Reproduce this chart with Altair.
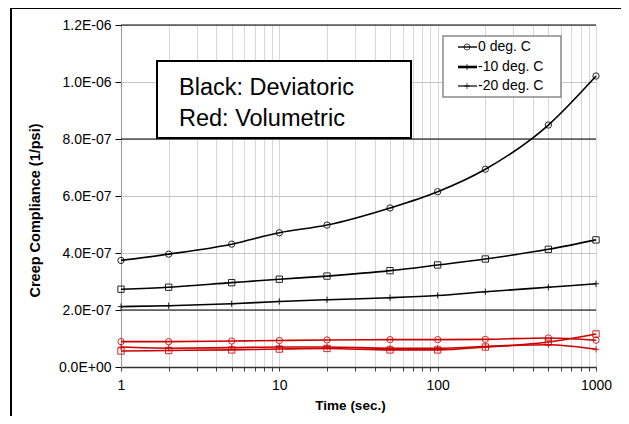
import altair as alt
import pandas as pd

# ---------------- data ----------------
times = [1, 2, 5, 10, 20, 50, 100, 200, 500, 1000]
series_names = ["0 deg. C", "-10 deg. C", "-20 deg. C"]
kinds = ["Deviatoric", "Volumetric"]

dev_0 = [3.74e-7, 3.96e-7, 4.31e-7, 4.71e-7, 4.98e-7, 5.58e-7, 6.15e-7, 6.94e-7, 8.49e-7, 1.021e-6]
dev_10 = [2.73e-7, 2.80e-7, 2.96e-7, 3.08e-7, 3.19e-7, 3.38e-7, 3.58e-7, 3.79e-7, 4.13e-7, 4.46e-7]
dev_20 = [2.12e-7, 2.15e-7, 2.22e-7, 2.30e-7, 2.36e-7, 2.43e-7, 2.51e-7, 2.64e-7, 2.80e-7, 2.92e-7]

vol_0 = [0.89e-7, 0.89e-7, 0.91e-7, 0.93e-7, 0.95e-7, 0.96e-7, 0.96e-7, 0.97e-7, 1.02e-7, 0.94e-7]
vol_10 = [0.56e-7, 0.58e-7, 0.60e-7, 0.63e-7, 0.65e-7, 0.60e-7, 0.60e-7, 0.70e-7, 0.88e-7, 1.16e-7]
vol_20 = [0.70e-7, 0.66e-7, 0.68e-7, 0.70e-7, 0.70e-7, 0.66e-7, 0.66e-7, 0.72e-7, 0.78e-7, 0.62e-7]

y_ticks = [0, 2e-7, 4e-7, 6e-7, 8e-7, 1.0e-6, 1.2e-6]
y_tick_labels = ["0.0E+00", "2.0E-07", "4.0E-07", "6.0E-07", "8.0E-07", "1.0E-06", "1.2E-06"]
x_label_values = [1, 10, 100, 1000]
x_grid = [m * d for d in (1, 10, 100) for m in range(1, 10)] + [1000]
dark_lines = [2e-7, 8e-7, 1.2e-6]

box_lines = ["Black: Deviatoric", "Red: Volumetric"]

# ---------------- tables ----------------
rows = []
for kind, group in zip(kinds, [[dev_0, dev_10, dev_20], [vol_0, vol_10, vol_20]]):
    for name, vals in zip(series_names, group):
        for t, v in zip(times, vals):
            rows.append({"time": t, "value": v, "temp": name, "kind": kind,
                         "series": kind + name})
df = pd.DataFrame(rows)

FONT = "Liberation Sans"
PLUS = "M-1,0H1M0,-1V1"

x_scale = alt.Scale(type="log", domain=[1, 1000], nice=False)
y_scale = alt.Scale(domain=[0, 1.2e-6], nice=False, zero=True)

y_label_expr = "[" + ",".join("'%s'" % l for l in y_tick_labels) + "][round(datum.value/2e-7)]"
x_label_expr = "indexof([" + ",".join(str(v) for v in x_label_values) + "], datum.value) >= 0 ? datum.value : ''"

x_axis = alt.Axis(values=x_grid, labelExpr=x_label_expr, grid=True, gridColor="#d6d6d6",
                  domainColor="#333333", domainWidth=1.5, tickColor="#444444", tickSize=4,
                  labelFont=FONT, labelFontSize=14, labelColor="black", labelPadding=7,
                  labelFlush=False, labelOverlap=False,
                  title="Time (sec.)", titleFont=FONT, titleFontSize=13.5, titleFontWeight="bold",
                  titleX=229, titleY=38, titleBaseline="middle", titleAnchor="middle")
y_axis = alt.Axis(values=y_ticks, labelExpr=y_label_expr, grid=True, gridColor="#c4c4c4",
                  domainColor="#999999", tickColor="black", tickSize=6,
                  labelFont=FONT, labelFontSize=14, labelColor="black", labelPadding=4,
                  title="Creep Compliance (1/psi)", titleFont=FONT, titleFontSize=14.5,
                  titleFontWeight="bold", titleX=-86, titleY=185, titleBaseline="middle",
                  titleAngle=270)

color = alt.Color("kind:N", scale=alt.Scale(domain=kinds, range=["black", "#cc0000"]), legend=None)

base = alt.Chart(df)

lines = base.mark_line(interpolate="monotone", strokeWidth=1.6).encode(
    x=alt.X("time:Q", scale=x_scale, axis=x_axis),
    y=alt.Y("value:Q", scale=y_scale, axis=y_axis),
    color=color,
    detail="series:N",
)

points = base.mark_point(filled=False, strokeWidth=1, opacity=0.85).encode(
    x=alt.X("time:Q", scale=x_scale),
    y=alt.Y("value:Q", scale=y_scale),
    color=color,
    shape=alt.Shape("temp:N", scale=alt.Scale(domain=series_names,
                                              range=["circle", "square", PLUS]), legend=None),
    size=alt.value(40),
)

dark = alt.Chart(pd.DataFrame({"y": dark_lines})).mark_rule(color="black", strokeWidth=1.2).encode(
    y=alt.Y("y:Q", scale=y_scale)
)

one = pd.DataFrame({"k": [0]})

# outer frame (left and top)
frame_left = alt.Chart(one).mark_rule(color="black", strokeWidth=2).encode(
    x=alt.value(-110), y=alt.value(-17), y2=alt.value(400))
frame_top = alt.Chart(one).mark_rule(color="black", strokeWidth=2).encode(
    x=alt.value(-111), x2=alt.value(510), y=alt.value(-17))

# annotation box
box = alt.Chart(one).mark_rect(fill="white", stroke="black", strokeWidth=2).encode(
    x=alt.value(36), x2=alt.value(290), y=alt.value(36), y2=alt.value(113))
box_texts = [
    alt.Chart(one).mark_text(align="left", baseline="alphabetic", font=FONT, fontSize=23.5,
                             color="black").encode(
        x=alt.value(58), y=alt.value(70 + 31 * i), text=alt.value(txt))
    for i, txt in enumerate(box_lines)
]

# legend
leg_box = alt.Chart(one).mark_rect(fill="white", stroke="#8a8a8a", strokeWidth=1.5).encode(
    x=alt.value(322), x2=alt.value(440), y=alt.value(11), y2=alt.value(72))
leg_layers = []
leg_y = [22, 42, 61]
leg_shapes = ["circle", PLUS, PLUS]
leg_widths = [1.4, 2.6, 1.2]
for name, yy, shp, w in zip(series_names, leg_y, leg_shapes, leg_widths):
    leg_layers.append(alt.Chart(one).mark_rule(color="black", strokeWidth=w).encode(
        x=alt.value(337), x2=alt.value(356), y=alt.value(yy)))
    leg_layers.append(alt.Chart(one).mark_point(shape=shp, filled=False, color="black",
                                                strokeWidth=1, size=36).encode(
        x=alt.value(346), y=alt.value(yy)))
    leg_layers.append(alt.Chart(one).mark_text(align="left", baseline="middle", font=FONT,
                                               fontSize=14, color="black").encode(
        x=alt.value(357), y=alt.value(yy), text=alt.value(name)))

chart = alt.layer(
    lines, dark, points, box, *box_texts, leg_box, *leg_layers, frame_left, frame_top
).resolve_scale(
    x="shared", y="shared"
).properties(
    width=475, height=342,
    padding={"left": 113, "top": 17, "right": 25, "bottom": 49},
    autosize=alt.AutoSizeParams(type="none"),
    background="white",
).configure_view(stroke=None)

chart.save("out.html", embed_options={"renderer": "svg", "actions": False})
